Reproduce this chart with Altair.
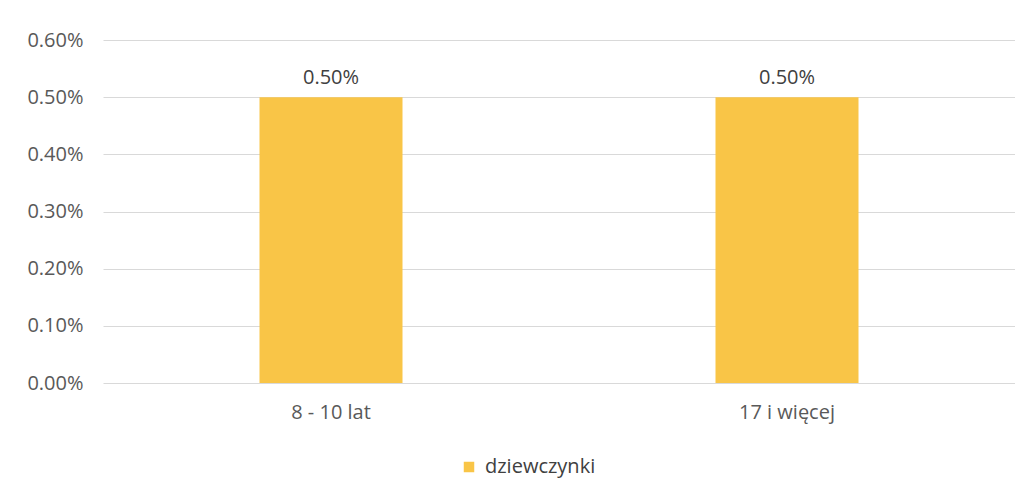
import altair as alt
import pandas as pd

categories = ["8 - 10 lat", "17 i więcej"]
values = [0.005, 0.005]
series = ["dziewczynki", "dziewczynki"]

df = pd.DataFrame({"kat": categories, "val": values, "seria": series})

FONT = "Open Sans"
FS = 20
BAR = "#F9C547"

base = alt.Chart(df).encode(
    x=alt.X("kat:N", sort=categories, title=None,
            scale=alt.Scale(paddingInner=0.68, paddingOuter=0.34),
            axis=alt.Axis(labelAngle=0, labelPadding=19, ticks=False, domain=False,
                          labelFont=FONT, labelFontSize=FS, labelColor="#595959",
                          grid=False)),
    y=alt.Y("val:Q", title=None,
            scale=alt.Scale(domain=[0, 0.006], nice=False),
            axis=alt.Axis(values=[0, 0.001, 0.002, 0.003, 0.004, 0.005, 0.006],
                          format=".2%", labelPadding=20, ticks=False, domain=False,
                          labelFont=FONT, labelFontSize=FS, labelColor="#595959",
                          gridColor="#D9D9D9", gridWidth=1)),
)

bars = base.mark_bar(size=143).encode(
    color=alt.Color("seria:N", scale=alt.Scale(range=[BAR]),
                    legend=alt.Legend(title=None, orient="none", legendX=356, legendY=417,
                                      symbolType="square", symbolSize=110,
                                      symbolStrokeWidth=0,
                                      labelFont=FONT, labelFontSize=FS,
                                      labelColor="#404040", labelOffset=6))
)

labels = base.mark_text(dy=-9, baseline="bottom", font=FONT, fontSize=FS,
                        color="#404040").encode(text=alt.Text("val:Q", format=".2%"))

chart = (bars + labels).properties(
    width=912, height=343,
    background="white",
    autosize=alt.AutoSizeParams(type="none"),
    padding={"left": 95, "top": 32, "right": 0, "bottom": 110},
).configure_view(stroke=None)

chart.save("out.html", embed_options={"renderer": "svg", "actions": False})
